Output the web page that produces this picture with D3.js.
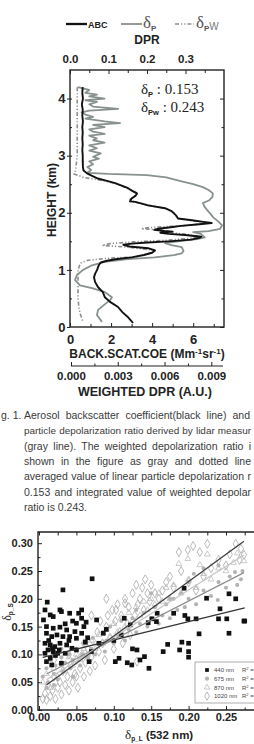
<!DOCTYPE html>
<html><head><meta charset="utf-8">
<script src="https://cdn.jsdelivr.net/npm/d3@7"></script>
<style>body{margin:0;background:#fff;overflow:hidden}svg{display:block}</style>
</head><body>
<svg id="c" width="254" height="744"></svg>
<script>
// ================= DATA =================
// Fig.1 profiles (height km, value)
const abcHeight = [4.2,4.1,4.0,3.9,3.8,3.7,3.6,3.5,3.4,3.3,3.2,3.1,3.0,2.9,2.8,2.74,2.69,2.65,2.6,2.56,2.52,2.47,2.43,2.38,2.34,2.3,2.25,2.2,2.19,2.16,2.13,2.08,2.03,1.96,1.9,1.87,1.84,1.82,1.8,1.77,1.75,1.72,1.7,1.68,1.67,1.65,1.63,1.61,1.58,1.56,1.53,1.5,1.48,1.46,1.44,1.41,1.38,1.34,1.3,1.26,1.22,1.19,1.16,1.13,1.08,1.0,0.93,0.87,0.79,0.7,0.61,0.52,0.44,0.35,0.26,0.18,0.12,0.07];
const abcValue  = [0.62,0.6,0.63,0.58,0.62,0.6,0.63,0.6,0.62,0.6,0.62,0.6,0.62,0.62,0.63,0.66,0.83,1.05,1.36,1.8,2.2,2.55,2.83,3.05,3.26,3.2,3.0,2.92,3.17,3.5,3.8,4.63,4.95,5.15,5.26,5.94,6.5,6.9,6.3,5.4,5.0,4.3,4.1,4.6,5.0,4.4,4.8,5.6,6.4,6.3,5.9,4.8,3.8,3.0,2.6,2.9,3.8,4.14,4.0,3.6,3.0,2.3,1.8,1.5,1.4,1.32,1.22,1.17,1.22,1.36,1.6,1.7,1.95,2.34,2.55,2.8,2.95,3.07];
const dpHeight = [4.2,4.15,4.1,4.07,4.04,4.0,3.97,3.94,3.9,3.86,3.82,3.79,3.76,3.72,3.68,3.65,3.6,3.57,3.54,3.5,3.46,3.42,3.38,3.35,3.3,3.27,3.23,3.18,3.13,3.09,3.04,2.98,2.95,2.9,2.85,2.8,2.75,2.7,2.68,2.66,2.62,2.55,2.5,2.45,2.4,2.34,2.28,2.22,2.17,2.1,2.05,1.98,1.92,1.85,1.78,1.72,1.68,1.66,1.63,1.6,1.57,1.54,1.5,1.47,1.44,1.4,1.33,1.29,1.26,1.22,1.19,1.14,1.08,1.0,0.91,0.82,0.73,0.68,0.61,0.52,0.47,0.4,0.3,0.21,0.09];
const dpValue  = [0.02,0.05,0.04,0.07,0.05,0.09,0.04,0.07,0.05,0.06,0.125,0.05,0.03,0.04,0.06,0.04,0.09,0.13,0.06,0.09,0.05,0.06,0.09,0.05,0.07,0.06,0.09,0.05,0.07,0.05,0.08,0.06,0.075,0.05,0.06,0.045,0.055,0.045,0.1,0.2,0.25,0.29,0.32,0.345,0.36,0.371,0.37,0.362,0.345,0.35,0.356,0.365,0.372,0.385,0.395,0.39,0.36,0.32,0.34,0.345,0.35,0.33,0.28,0.247,0.26,0.29,0.295,0.29,0.27,0.22,0.15,0.09,0.057,0.034,0.018,0.013,0.026,0.057,0.091,0.109,0.104,0.091,0.073,0.07,0.083];
const dpwHeight = [4.2,3.5,3.0,2.75,2.68,2.62,2.57,2.52,2.43,2.34,2.27,2.22,2.19,2.13,2.08,2.0,1.9,1.86,1.82,1.78,1.74,1.72,1.7,1.66,1.62,1.58,1.55,1.52,1.49,1.46,1.43,1.4,1.35,1.3,1.26,1.23,1.2,1.17,1.12,1.0,0.82,0.52,0.35,0.24,0.09];
const dpwValue  = [0.0004,0.0004,0.0004,0.0003,0.0002,0.0008,0.0019,0.0028,0.0036,0.0043,0.004,0.0037,0.0041,0.005,0.006,0.0066,0.0069,0.0078,0.0088,0.0075,0.005,0.0045,0.0058,0.006,0.0075,0.0084,0.0075,0.0062,0.004,0.0025,0.002,0.0035,0.0052,0.0052,0.0045,0.0042,0.0022,0.0011,0.0006,0.00045,0.00045,0.00045,0.0005,0.00058,0.00077];
const bscTicks = [0,2,4,6];
const dprTicks = [0.0,0.1,0.2,0.3];
const wdprTicks = [0.000,0.003,0.006,0.009];
const heightTicks = [0,1,2,3,4];
const legendNames = ["ABC","δ","δ"];
const dpMean = "0.153", dpwMean = "0.243";

const captionLabel = "g. 1.";
const captionLines = [
  "Aerosol backscatter coefficient(black line) and",
  "particle depolarization ratio derived by lidar measur",
  "(gray line). The weighted depolarization ratio i",
  "shown in the figure as gray and dotted line",
  "averaged value of linear particle depolarization r",
  "0.153 and integrated value of weighted depolar",
  "ratio is 0.243."
];

// Scatter: δp_L(532 nm) vs δp_S for 4 wavelengths
const s440x = [0.011,0.032,0.071,0.194,0.224,0.254,0.263,0.028,0.057,0.242,0.24,0.251,0.274,0.158,0.151,0.199,0.21,0.195,0.146,0.275,0.254,0.214,0.191,0.2,0.188,0.2,0.2,0.166,0.172,0.147,0.141,0.131,0.124,0.118,0.107,0.102,0.067,0.122,0.114,0.086,0.157,0.18,0.077,0.063,0.062,0.008,0.015,0.006,0.019,0.03,0.041,0.053,0.057,0.05,0.01,0.019,0.028,0.037,0.048,0.057,0.01,0.017,0.024,0.032,0.041,0.05,0.008,0.015,0.021,0.028,0.037,0.012,0.019,0.025,0.008,0.015,0.01,0.035,0.044,0.05,0.03,0.017,0.022,0.018,0.027,0.013,0.04,0.045,0.06,0.035,0.065,0.07,0.08,0.09,0.1,0.11,0.135,0.125];
const s440y = [0.194,0.216,0.236,0.219,0.201,0.209,0.2,0.18,0.18,0.182,0.164,0.164,0.16,0.174,0.164,0.164,0.164,0.17,0.157,0.16,0.138,0.137,0.122,0.12,0.108,0.105,0.095,0.105,0.118,0.075,0.096,0.108,0.081,0.085,0.093,0.087,0.087,0.153,0.165,0.138,0.159,0.174,0.162,0.158,0.122,0.18,0.171,0.162,0.168,0.177,0.174,0.174,0.165,0.156,0.15,0.147,0.149,0.144,0.141,0.138,0.138,0.132,0.135,0.132,0.132,0.129,0.12,0.117,0.114,0.12,0.117,0.108,0.105,0.102,0.102,0.093,0.087,0.102,0.111,0.108,0.084,0.081,0.098,0.11,0.108,0.125,0.125,0.16,0.15,0.155,0.13,0.105,0.12,0.145,0.125,0.135,0.09,0.11];
const s675x = [0.005,0.01,0.012,0.015,0.02,0.022,0.025,0.03,0.032,0.035,0.04,0.042,0.045,0.05,0.055,0.058,0.06,0.065,0.07,0.072,0.075,0.08,0.085,0.088,0.09,0.095,0.1,0.105,0.11,0.115,0.12,0.125,0.13,0.135,0.14,0.145,0.15,0.155,0.16,0.165,0.17,0.175,0.18,0.185,0.19,0.195,0.2,0.207,0.21,0.22,0.23,0.239,0.24,0.25,0.255,0.262,0.27,0.272,0.265,0.13,0.15,0.175,0.2,0.22,0.24,0.01,0.02,0.03,0.045];
const s675y = [0.06,0.075,0.05,0.09,0.065,0.08,0.055,0.095,0.07,0.085,0.1,0.075,0.09,0.11,0.08,0.1,0.12,0.095,0.11,0.13,0.1,0.12,0.14,0.105,0.125,0.15,0.12,0.135,0.16,0.125,0.145,0.165,0.14,0.155,0.175,0.15,0.165,0.185,0.155,0.17,0.19,0.165,0.2,0.18,0.21,0.185,0.2,0.245,0.19,0.215,0.205,0.198,0.23,0.22,0.24,0.248,0.235,0.25,0.225,0.18,0.21,0.2,0.23,0.255,0.26,0.04,0.045,0.11,0.06];
const s870x = [0.005,0.01,0.015,0.02,0.025,0.03,0.035,0.04,0.045,0.05,0.055,0.06,0.065,0.07,0.075,0.08,0.085,0.09,0.095,0.1,0.105,0.11,0.115,0.12,0.125,0.13,0.135,0.14,0.145,0.15,0.155,0.16,0.165,0.17,0.175,0.187,0.199,0.215,0.225,0.265,0.274,0.18,0.19,0.2,0.21,0.22,0.23,0.24,0.25,0.26];
const s870y = [0.05,0.065,0.04,0.075,0.06,0.085,0.07,0.095,0.08,0.1,0.09,0.11,0.1,0.125,0.11,0.135,0.12,0.145,0.13,0.155,0.14,0.165,0.15,0.175,0.16,0.185,0.17,0.195,0.18,0.2,0.19,0.21,0.195,0.22,0.2,0.263,0.272,0.261,0.28,0.282,0.268,0.225,0.21,0.235,0.22,0.245,0.235,0.255,0.25,0.265];
const s1020x = [0.005,0.008,0.01,0.012,0.015,0.018,0.02,0.022,0.025,0.028,0.03,0.032,0.035,0.038,0.04,0.042,0.045,0.048,0.05,0.052,0.055,0.058,0.06,0.062,0.065,0.068,0.07,0.072,0.075,0.078,0.08,0.082,0.085,0.088,0.09,0.092,0.095,0.098,0.1,0.102,0.105,0.108,0.11,0.112,0.115,0.118,0.12,0.122,0.125,0.128,0.13,0.132,0.135,0.138,0.14,0.142,0.145,0.148,0.15,0.155,0.16,0.165,0.17,0.175,0.18,0.187,0.199,0.206,0.215,0.225,0.19,0.2,0.21,0.22,0.23,0.24,0.25,0.255,0.263,0.27,0.274,0.268,0.02,0.04,0.06,0.103,0.115,0.131,0.05,0.07,0.09];
const s1020y = [0.02,0.03,0.018,0.045,0.025,0.035,0.06,0.02,0.04,0.05,0.028,0.07,0.045,0.06,0.035,0.08,0.05,0.065,0.09,0.04,0.075,0.1,0.06,0.085,0.11,0.07,0.095,0.125,0.08,0.14,0.105,0.16,0.12,0.09,0.15,0.17,0.13,0.18,0.11,0.16,0.19,0.14,0.17,0.12,0.2,0.155,0.185,0.135,0.21,0.17,0.225,0.19,0.2,0.22,0.18,0.235,0.21,0.195,0.225,0.21,0.2,0.215,0.23,0.24,0.22,0.284,0.288,0.295,0.284,0.299,0.25,0.23,0.215,0.24,0.255,0.27,0.26,0.28,0.299,0.29,0.279,0.27,0.09,0.1,0.12,0.18,0.192,0.087,0.06,0.17,0.2];
const fitSlope = [0.33,0.69,0.85,0.98];
const fitIntercept = [0.093,0.058,0.046,0.035];
const fitStart = [0.005,0.01,0.01,0.01];
const fitEnd = [0.275,0.274,0.274,0.274];
const wavelengths = ["440 nm","675 nm","870 nm","1020 nm"];
const scatterXTicks = [0,0.05,0.10,0.15,0.20,0.25];
const scatterYTicks = [0,0.05,0.10,0.15,0.20,0.25,0.30];

// ================= DRAW =================
const svg = d3.select("#c");
const sans = '"Liberation Sans", Arial, Helvetica, sans-serif';
const serif = '"Liberation Serif", "Times New Roman", serif';
const ink = "#222";
const grayLine = "#87918d";

// ---------- Fig.1 ----------
const L=70, R=224, T=70, B=327;
const yH = d3.scaleLinear().domain([0,4.5]).range([B,T]);
const xB = d3.scaleLinear().domain([0,7.5]).range([L,R]);
const xD = d3.scaleLinear().domain([0,0.4]).range([L,R]);
const xW = d3.scaleLinear().domain([0,0.00975]).range([71,223]);

const g1 = svg.append("g");

function styleAxis(sel, fs){
  sel.select(".domain").remove();
  sel.selectAll(".tick line").attr("stroke", ink).attr("stroke-width",1);
  sel.selectAll("text").attr("font-family",sans).attr("font-weight","bold").attr("font-size",fs).attr("fill",ink);
}
const topAx = g1.append("g").attr("transform",`translate(0,${T})`)
  .call(d3.axisTop(xD).tickValues(dprTicks).tickFormat(d3.format(".1f")).tickSizeInner(-4).tickPadding(7));
styleAxis(topAx, 11.5);
g1.append("g").attr("transform",`translate(0,${T})`)
  .call(d3.axisTop(xD).tickValues(d3.range(0.05,0.4,0.1)).tickFormat("").tickSizeInner(-3).tickSizeOuter(0))
  .call(s=>styleAxis(s,10));
const botAx = g1.append("g").attr("transform",`translate(0,${B})`)
  .call(d3.axisBottom(xB).tickValues(bscTicks).tickFormat(d3.format("d")).tickSizeInner(-4).tickPadding(7.5));
styleAxis(botAx, 13);
g1.append("g").attr("transform",`translate(0,${B})`)
  .call(d3.axisBottom(xB).tickValues([1,3,5,7]).tickFormat("").tickSizeInner(-3).tickSizeOuter(0))
  .call(s=>styleAxis(s,10));
const leftAx = g1.append("g").attr("transform",`translate(${L},0)`)
  .call(d3.axisLeft(yH).tickValues(heightTicks).tickFormat(d3.format("d")).tickSizeInner(3).tickPadding(1.5));
styleAxis(leftAx, 13);
g1.append("g").attr("transform",`translate(${L},0)`)
  .call(d3.axisLeft(yH).tickValues(d3.range(0.5,4.5,0.5)).tickFormat("").tickSizeInner(-2).tickSizeOuter(0))
  .call(s=>styleAxis(s,10));
g1.append("g").attr("transform",`translate(${R},0)`)
  .call(d3.axisLeft(yH).tickValues(heightTicks).tickFormat("").tickSizeInner(4).tickSizeOuter(0))
  .call(s=>styleAxis(s,10));
g1.append("g").attr("transform",`translate(${R},0)`)
  .call(d3.axisLeft(yH).tickValues(d3.range(0.5,4.5,1)).tickFormat("").tickSizeInner(2.5).tickSizeOuter(0))
  .call(s=>styleAxis(s,10));
g1.append("rect").attr("x",L).attr("y",T).attr("width",R-L).attr("height",B-T)
  .attr("fill","none").attr("stroke",ink).attr("stroke-width",1.4);

const wAx = g1.append("g").attr("transform","translate(0,366)")
  .call(d3.axisBottom(xW).tickValues(wdprTicks).tickFormat(d3.format(".3f")).tickSizeInner(-4).tickSizeOuter(0).tickPadding(6));
styleAxis(wAx, 11.5);
wAx.append("line").attr("x1",xW.range()[0]).attr("x2",xW.range()[1]).attr("stroke",ink).attr("stroke-width",1.2);
g1.append("g").attr("transform","translate(0,366)")
  .call(d3.axisBottom(xW).tickValues([0.0015,0.0045,0.0075]).tickFormat("").tickSizeInner(-2.5).tickSizeOuter(0))
  .call(s=>styleAxis(s,10));

g1.append("text").attr("x",147).attr("y",44).attr("text-anchor","middle")
  .attr("font-family",sans).attr("font-weight","bold").attr("font-size",12).attr("fill",ink).text("DPR");
const bt = g1.append("text").attr("x",147).attr("y",358).attr("text-anchor","middle")
  .attr("font-family",sans).attr("font-weight","bold").attr("font-size",12).attr("fill",ink);
bt.append("tspan").text("BACK.SCAT.COE (Mm");
bt.append("tspan").attr("dy",-4.5).attr("font-size",8).text("-1");
bt.append("tspan").attr("dy",4.5).text("sr");
bt.append("tspan").attr("dy",-4.5).attr("font-size",8).text("-1");
bt.append("tspan").attr("dy",4.5).text(")");
g1.append("text").attr("x",145).attr("y",396).attr("text-anchor","middle")
  .attr("font-family",sans).attr("font-weight","bold").attr("font-size",12.5).attr("fill",ink).text("WEIGHTED DPR (A.U.)");
g1.append("text").attr("transform","translate(56,200) rotate(-90)").attr("text-anchor","middle")
  .attr("font-family",sans).attr("font-weight","bold").attr("font-size",12).attr("fill",ink).text("HEIGHT (km)");

const lineB = d3.line().x((d,i)=>xB(abcValue[i])).y((d,i)=>yH(abcHeight[i]));
const lineD = d3.line().x((d,i)=>xD(dpValue[i])).y((d,i)=>yH(dpHeight[i]));
const lineW = d3.line().x((d,i)=>xW(dpwValue[i])).y((d,i)=>yH(dpwHeight[i]));
g1.append("path").attr("d",lineW(dpwHeight)).attr("fill","none").attr("stroke","#8e8e8e")
  .attr("stroke-width",1.6).attr("stroke-dasharray","4,2,1.2,2,1.2,2");
g1.append("path").attr("d",lineD(dpHeight)).attr("fill","none").attr("stroke",grayLine).attr("stroke-width",1.8).attr("stroke-linejoin","round");
g1.append("path").attr("d",lineB(abcHeight)).attr("fill","none").attr("stroke","#111").attr("stroke-width",1.9).attr("stroke-linejoin","round");

function deltaText(x,y,sub,val){
  const t = g1.append("text").attr("x",x).attr("y",y).attr("font-family",serif).attr("font-size",15).attr("fill",ink);
  t.append("tspan").text("δ");
  t.append("tspan").attr("dy",3).attr("font-family",sans).attr("font-weight","bold").attr("font-size",7.5).text(sub);
  t.append("tspan").attr("dy",-3).text(" : "+val);
}
deltaText(141,94,"P",dpMean);
deltaText(141,112,"Pw",dpwMean);

const lg = g1.append("g");
lg.append("line").attr("x1",66).attr("x2",87).attr("y1",24).attr("y2",24).attr("stroke","#111").attr("stroke-width",2.3);
lg.append("text").attr("x",88).attr("y",28).attr("font-family",sans).attr("font-weight","bold").attr("font-size",9).attr("fill",ink).text(legendNames[0]);
lg.append("line").attr("x1",121).attr("x2",142).attr("y1",24).attr("y2",24).attr("stroke",grayLine).attr("stroke-width",1.8);
const l2 = lg.append("text").attr("x",143).attr("y",28).attr("font-family",serif).attr("font-size",17).attr("fill","#555");
l2.append("tspan").text(legendNames[1]);
l2.append("tspan").attr("dy",3).attr("font-family",sans).attr("font-weight","bold").attr("font-size",8).text("P");
lg.append("line").attr("x1",175).attr("x2",194).attr("y1",24).attr("y2",24).attr("stroke","#8e8e8e").attr("stroke-width",1.6).attr("stroke-dasharray","4,2,1.2,2,1.2,2");
const l3 = lg.append("text").attr("x",196).attr("y",28).attr("font-family",serif).attr("font-size",17).attr("fill","#555");
l3.append("tspan").text(legendNames[2]);
l3.append("tspan").attr("dy",3).attr("font-family",sans).attr("font-weight","bold").attr("font-size",8).text("P");
l3.append("tspan").attr("dy",-1).attr("font-family",sans).attr("font-size",10).attr("fill","#777").text("W");

// caption (justified by word spacing; font shrinks slightly if a line is too long)
const capFs = 10.5;
const cap = svg.append("g").attr("font-family",sans).attr("font-size",capFs).attr("fill","#3a3a3a");
cap.append("text").attr("x",1).attr("y",419).text(captionLabel);
const capY0 = 419, capDy = 15.3;
captionLines.forEach((t,i)=>{
  const el = cap.append("text").attr("x",24).attr("y",capY0+i*capDy).text(t);
  if(i < captionLines.length-1){
    const end = i===0 ? 250 : 251;
    let len = el.node().getComputedTextLength();
    if(len > end-24-2){
      const fs = capFs*(end-24-2)/len;
      el.attr("font-size", fs.toFixed(2));
      len = el.node().getComputedTextLength();
    }
    const sp = (t.match(/ /g)||[]).length;
    const extra = end-24-len;
    if(extra > 0 && sp) el.attr("word-spacing", (extra/sp).toFixed(2));
  }
});

// ---------- Scatter ----------
const SL=38, ST=532, SB=710, SR=290;
const sx = d3.scaleLinear().domain([0,0.3]).range([39,39+0.3*748]);
const sy = d3.scaleLinear().domain([0,0.32]).range([SB,SB-0.32*556]);
const g2 = svg.append("g");

const sLeft = g2.append("g").attr("transform",`translate(${SL},0)`)
  .call(d3.axisLeft(sy).tickValues(scatterYTicks).tickFormat(d3.format(".2f")).tickSizeInner(-4).tickSizeOuter(0).tickPadding(5));
styleAxis(sLeft, 11);
g2.append("g").attr("transform",`translate(${SL},0)`)
  .call(d3.axisLeft(sy).tickValues(d3.range(0.025,0.32,0.05)).tickFormat("").tickSizeInner(-2.5).tickSizeOuter(0)).call(s=>styleAxis(s,10));
const sBot = g2.append("g").attr("transform",`translate(0,${SB})`)
  .call(d3.axisBottom(sx).tickValues(scatterXTicks).tickFormat(d3.format(".2f")).tickSizeInner(-4).tickSizeOuter(0).tickPadding(3));
styleAxis(sBot, 11);
g2.append("g").attr("transform",`translate(0,${SB})`)
  .call(d3.axisBottom(sx).tickValues(d3.range(0.025,0.3,0.05)).tickFormat("").tickSizeInner(-2.5).tickSizeOuter(0)).call(s=>styleAxis(s,10));
g2.append("g").attr("transform",`translate(0,${ST})`)
  .call(d3.axisTop(sx).tickValues(d3.range(0,0.3,0.025)).tickFormat("").tickSizeInner(-3.5).tickSizeOuter(0)).call(s=>styleAxis(s,10));
g2.append("path").attr("d",`M${SR},${ST}H${SL}V${SB}H${SR}`).attr("fill","none").attr("stroke",ink).attr("stroke-width",1.4);

function pts(xs,ys,type,size,fill,stroke,sw){
  const sym = d3.symbol().type(type).size(size);
  g2.append("g").selectAll("path").data(xs).join("path")
    .attr("transform",(d,i)=>`translate(${sx(d)},${sy(ys[i])})`)
    .attr("d",sym).attr("fill",fill).attr("stroke",stroke).attr("stroke-width",sw);
}
pts(s1020x,s1020y,d3.symbolDiamond,24,"none","#a9a9a9",0.8);
pts(s870x,s870y,d3.symbolTriangle,15,"none","#bdbdbd",0.8);
pts(s675x,s675y,d3.symbolCircle,13,"#b3b3b3","none",0);
pts(s440x,s440y,d3.symbolSquare,22,"#111","none",0);

const fitColors = ["#333","#8c8c8c","#c4c4c4","#3c3c3c"];
fitSlope.forEach((m,i)=>{
  g2.append("line").attr("x1",sx(fitStart[i])).attr("y1",sy(fitIntercept[i]+m*fitStart[i]))
    .attr("x2",sx(fitEnd[i])).attr("y2",sy(fitIntercept[i]+m*fitEnd[i]))
    .attr("stroke",fitColors[i]).attr("stroke-width",1.2);
});

const lgb = g2.append("g");
lgb.append("rect").attr("x",195).attr("y",662).attr("width",80).attr("height",41).attr("fill","#fff").attr("stroke","#999").attr("stroke-width",0.8);
const symTypes=[d3.symbolSquare,d3.symbolCircle,d3.symbolTriangle,d3.symbolDiamond];
const symFill=["#111","#b3b3b3","none","none"], symStroke=["none","none","#bdbdbd","#a9a9a9"];
wavelengths.forEach((w,i)=>{
  const yy = 670 + i*8.7;
  lgb.append("path").attr("transform",`translate(207,${yy})`).attr("d",d3.symbol().type(symTypes[i]).size(i===3?20:14)())
    .attr("fill",symFill[i]).attr("stroke",symStroke[i]).attr("stroke-width",0.8);
  lgb.append("text").attr("x",214).attr("y",yy+2.2).attr("font-family",sans).attr("font-size",6).attr("fill","#444").text(w);
  const r = lgb.append("text").attr("x",242).attr("y",yy+2.2).attr("font-family",sans).attr("font-size",6).attr("fill","#444");
  r.append("tspan").text("R");
  r.append("tspan").attr("dy",-2).attr("font-size",4).text("2");
  r.append("tspan").attr("dy",2).text(" =");
});

const xt = g2.append("text").attr("x",125).attr("y",739).attr("font-family",sans).attr("font-weight","bold").attr("font-size",11.5).attr("fill",ink);
xt.append("tspan").attr("font-family",serif).attr("font-weight","normal").attr("font-size",13).text("δ");
xt.append("tspan").attr("dy",2).attr("font-size",6.5).text("p_L");
xt.append("tspan").attr("dy",-2).text(" (532 nm)");
const yt = g2.append("text").attr("transform","translate(11,612) rotate(-90)").attr("text-anchor","middle").attr("font-family",sans).attr("font-weight","bold").attr("font-size",10).attr("fill",ink);
yt.append("tspan").attr("font-family",serif).attr("font-weight","normal").attr("font-size",12).text("δ");
yt.append("tspan").attr("dy",2).attr("font-size",6.5).text("p_S");
</script>
</body></html>
